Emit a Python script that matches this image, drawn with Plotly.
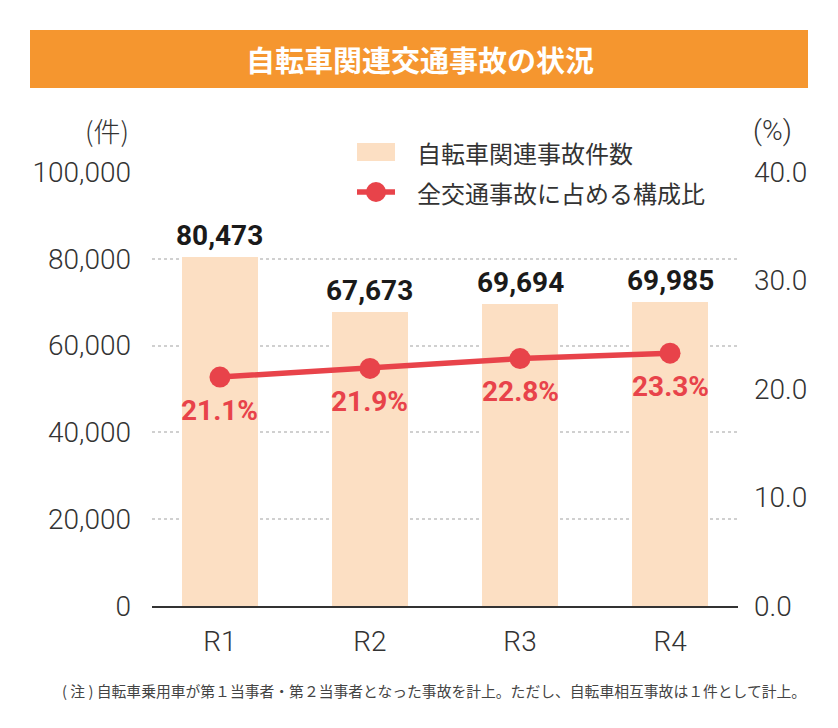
import plotly.graph_objects as go

categories = ["R1", "R2", "R3", "R4"]
bike_accidents = [80473, 67673, 69694, 69985]
share_pct = [21.1, 21.9, 22.8, 23.3]
left_ticks = [0, 20000, 40000, 60000, 80000, 100000]
right_ticks = [0, 10, 20, 30, 40]

OFF = 8  # default page body margin
W, H = 838 - OFF, 728 - OFF
# plot area in reference (page) pixels
PL, PR, PT, PB = 152, 738, 171, 606
Y100 = 172  # pixel of 100,000 / 40.0
scale_top = (PB - PT) / (PB - Y100)

def px(x):
    return (x - PL) / (PR - PL)

def py(y):
    return (PB - y) / (PB - PT)

JP = "Noto Sans CJK JP"
NUM = "Roboto"
BAR_C = "#FCDFC3"
LINE_C = "#E8434A"
TXT = "#333333"

fig = go.Figure()
fig.add_trace(go.Bar(x=categories, y=bike_accidents, marker_color=BAR_C,
                     marker_line_width=0, width=0.507, name="自転車関連事故件数",
                     showlegend=False))
fig.add_trace(go.Scatter(x=categories, y=share_pct, yaxis="y2", mode="lines+markers",
                         line=dict(color=LINE_C, width=5.5),
                         marker=dict(color=LINE_C, size=21),
                         name="全交通事故に占める構成比", showlegend=False))

annotations = []
for c, v in zip(categories, bike_accidents):
    annotations.append(dict(x=c, y=v, xref="x", yref="y", text=f"{v:,}",
                            showarrow=False, yanchor="bottom", yshift=3,
                            font=dict(family=NUM, size=28, color="#1a1a1a", weight=700)))
for c, v in zip(categories, share_pct):
    annotations.append(dict(x=c, y=v, xref="x", yref="y2", text=f"{v:.1f}%",
                            showarrow=False, yanchor="middle", yshift=-33,
                            font=dict(family=NUM, size=28, color=LINE_C, weight=700)))

# title
annotations.append(dict(x=px(420), y=py(59), xref="paper", yref="paper",
                        text="自転車関連交通事故の状況", showarrow=False,
                        xanchor="center", yanchor="middle",
                        font=dict(family=JP, size=29, color="white", weight=700)))
# unit labels
annotations.append(dict(x=px(131), y=py(131), xref="paper", yref="paper", text="(件)",
                        showarrow=False, xanchor="right", yanchor="middle",
                        font=dict(family=JP, size=27, color=TXT, weight=300)))
annotations.append(dict(x=px(751), y=py(131), xref="paper", yref="paper", text="(%)",
                        showarrow=False, xanchor="left", yanchor="middle",
                        font=dict(family=NUM, size=28, color=TXT, weight=300)))
# legend text
annotations.append(dict(x=px(415), y=py(153), xref="paper", yref="paper", text="自転車関連事故件数",
                        showarrow=False, xanchor="left", yanchor="middle",
                        font=dict(family=JP, size=24, color=TXT)))
annotations.append(dict(x=px(415), y=py(192), xref="paper", yref="paper", text="全交通事故に占める構成比",
                        showarrow=False, xanchor="left", yanchor="middle",
                        font=dict(family=JP, size=24, color=TXT)))
# footnote
annotations.append(dict(x=px(808), y=py(690), xref="paper", yref="paper",
                        text="( 注 ) 自転車乗用車が第１当事者・第２当事者となった事故を計上。ただし、自転車相互事故は１件として計上。",
                        showarrow=False, xanchor="right", yanchor="middle",
                        font=dict(family=JP, size=14.8, color="#444444")))

shapes = [
    dict(type="rect", xref="paper", yref="paper", x0=px(30), x1=px(808), y0=py(88), y1=py(30),
         fillcolor="#F5962F", line_width=0, layer="below"),
    dict(type="rect", xref="paper", yref="paper", x0=px(357), x1=px(395), y0=py(161), y1=py(143),
         fillcolor=BAR_C, line_width=0),
    dict(type="line", xref="paper", yref="paper", x0=px(357), x1=px(395), y0=py(192), y1=py(192),
         line=dict(color=LINE_C, width=5.5)),
    dict(type="circle", xref="paper", yref="paper", x0=px(366), x1=px(386), y0=py(202), y1=py(182),
         fillcolor=LINE_C, line_width=0),
]

fig.update_layout(
    width=W, height=H,
    margin=dict(l=PL - OFF, r=W - (PR - OFF), t=PT - OFF, b=H - (PB - OFF)),
    paper_bgcolor="white", plot_bgcolor="white",
    showlegend=False,
    bargap=0,
    xaxis=dict(range=[-0.453, 3.453], showgrid=False, showline=True, linecolor="#333333",
               linewidth=2, ticks="", ticklabelstandoff=9,
               tickfont=dict(family=NUM, size=28, color=TXT, weight=300)),
    yaxis=dict(range=[0, 100000 * scale_top], tickvals=left_ticks, tickformat=",", showgrid=True,
               gridcolor="#d0d0d0", griddash="dot", gridwidth=1.5, zeroline=False,
               ticklabelstandoff=20, showline=False,
               tickfont=dict(family=NUM, size=28, color=TXT, weight=300)),
    yaxis2=dict(range=[0, 40 * scale_top], tickvals=right_ticks, tickformat=".1f", overlaying="y",
                side="right", showgrid=False, zeroline=False, ticklabelstandoff=15,
                tickfont=dict(family=NUM, size=28, color=TXT, weight=300)),
    annotations=annotations,
    shapes=shapes,
)

fig.write_html("out.html")
